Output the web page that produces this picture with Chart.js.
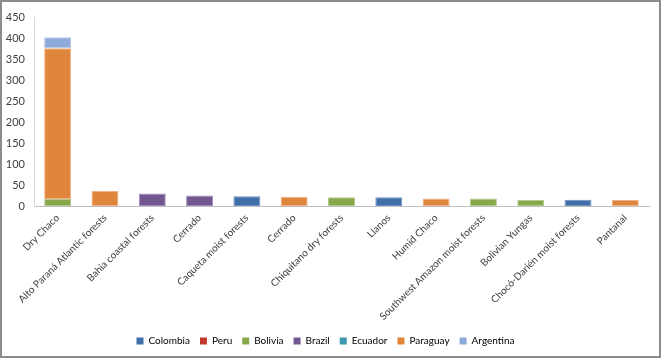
<!DOCTYPE html>
<html lang="en">
<head>
    <meta charset="utf-8">
    <title>Ecoregions by country</title>
    <script src="https://cdn.jsdelivr.net/npm/chart.js"></script>
    <style>
        body { margin: 0; background: #fff; }
        #frame {
            position: absolute; left: 0; top: 0;
            width: 661px; height: 358px;
            box-sizing: border-box;
            border: 2px solid #8c8c8c;
        }
        #wrap { position: relative; width: 657px; height: 354px; }
    </style>
</head>
<body>
    <div id="frame">
        <div id="wrap"><canvas id="ecoChart"></canvas></div>
    </div>

    <script>
        // categories along the x axis
        const ecoregions = ['Dry Chaco', 'Alto Paraná Atlantic forests', 'Bahia coastal forests', 'Cerrado',
            'Caqueta moist forests', 'Cerrado', 'Chiquitano dry forests', 'Llanos', 'Humid Chaco',
            'Southwest Amazon moist forests', 'Bolivian Yungas', 'Chocó-Darién moist forests', 'Pantanal'];

        // values per country (null = no bar)
        const colombia = [null, null, null, null, 23, null, null, 21, null, null, null, 15, null];
        const peru = [null, null, null, null, null, null, null, null, null, null, null, null, null];
        const bolivia = [17, null, null, null, null, null, 21, null, null, 18, 15, null, null];
        const brazil = [null, null, 30, 25, null, null, null, null, null, null, null, null, null];
        const ecuador = [null, null, null, null, null, null, null, null, null, null, null, null, null];
        const paraguay = [360, 36, null, null, null, 22, null, null, 18, null, null, null, 15];
        const argentina = [26, null, null, null, null, null, null, null, null, null, null, null, null];

        const yTicks = [0, 50, 100, 150, 200, 250, 300, 350, 400, 450];

        const font = "Lato, sans-serif";

        const series = (label, data, fill, edge) => ({
            label: label,
            data: data,
            backgroundColor: fill,
            borderColor: edge,
            borderWidth: 1,
            borderSkipped: false,
            categoryPercentage: 1,
            barPercentage: 0.57
        });

        new Chart(document.getElementById('ecoChart'), {
            type: 'bar',
            data: {
                labels: ecoregions,
                datasets: [
                    series('Colombia', colombia, '#3f6ea8', '#6f93c4'),
                    series('Peru', peru, '#c0392b', '#d9736a'),
                    series('Bolivia', bolivia, '#86a84a', '#b0c98a'),
                    series('Brazil', brazil, '#72568f', '#a08cb8'),
                    series('Ecuador', ecuador, '#3b98b0', '#7cc0d2'),
                    series('Paraguay', paraguay, '#e0853c', '#f4b183'),
                    series('Argentina', argentina, '#8eaadb', '#b4c7e7')
                ]
            },
            options: {
                responsive: true,
                maintainAspectRatio: false,
                animation: false,
                layout: { padding: { left: 0, right: 10, top: 2, bottom: 0 } },
                scales: {
                    x: {
                        stacked: true,
                        grid: { display: false, drawTicks: false },
                        border: { color: '#bfbfbf' },
                        ticks: {
                            color: '#404040',
                            font: { family: font, size: 10 },
                            minRotation: 45,
                            maxRotation: 45,
                            autoSkip: false,
                            padding: 6
                        },
                        afterFit: (scale) => { scale.height = 120; }
                    },
                    y: {
                        stacked: true,
                        min: 0,
                        max: 450,
                        grid: { display: false, drawTicks: false },
                        border: { color: '#d9d9d9' },
                        afterBuildTicks: (scale) => { scale.ticks = yTicks.map(v => ({ value: v })); },
                        ticks: {
                            color: '#404040',
                            font: { family: font, size: 11 },
                            padding: 9
                        },
                        afterFit: (scale) => { scale.width = 32; }
                    }
                },
                plugins: {
                    legend: {
                        position: 'bottom',
                        labels: {
                            boxWidth: 7,
                            boxHeight: 7,
                            color: '#404040',
                            font: { family: font, size: 10 },
                            padding: 10,
                            generateLabels: (chart) => chart.data.datasets.map((ds, i) => ({
                                text: ds.label,
                                fillStyle: ds.backgroundColor,
                                strokeStyle: ds.backgroundColor,
                                lineWidth: 0,
                                datasetIndex: i
                            }))
                        }
                    },
                    tooltip: { enabled: false }
                }
            }
        });
    </script>
</body>
</html>
